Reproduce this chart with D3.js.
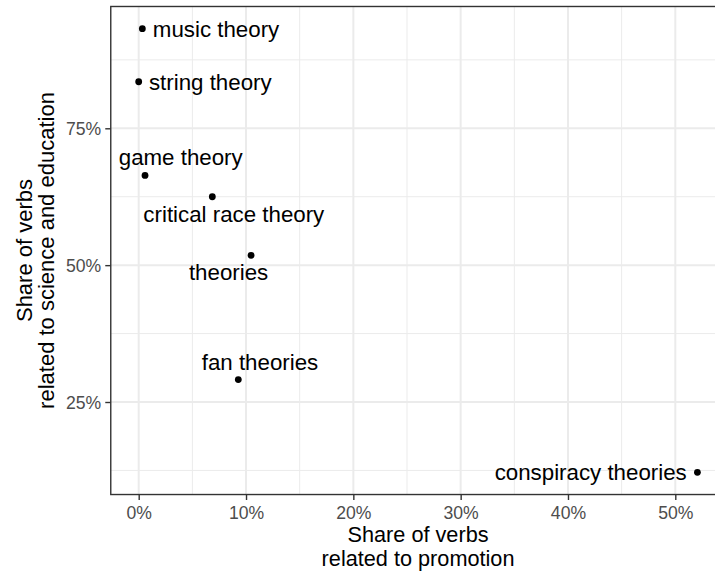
<!DOCTYPE html>
<html>
<head>
<meta charset="utf-8">
<script src="https://cdn.jsdelivr.net/npm/d3@7"></script>
<style>
  html, body { margin: 0; padding: 0; background: #fff; }
  svg { display: block; font-family: "Liberation Sans", Arial, Helvetica, sans-serif; }
</style>
</head>
<body>
<svg id="chart" width="715" height="576"></svg>
<script>
// ---- data ----
const terms = ["music theory", "string theory", "game theory", "critical race theory", "theories", "fan theories", "conspiracy theories"];
const promotionShare = [0.34, 0.0, 0.59, 6.86, 10.47, 9.28, 52.06];   // x, %
const scienceShare   = [93.2, 83.5, 66.4, 62.5, 51.8, 29.1, 12.15];  // y, %
const xTicks = [0, 10, 20, 30, 40, 50];
const yTicks = [25, 50, 75];
const yMinor = [12.5, 37.5, 62.5, 87.5];
const xMinor = [5, 15, 25, 35, 45];
const xTitle = ["Share of verbs", "related to promotion"];
const yTitle = ["Share of verbs", "related to science and education"];

// ---- layout (label placement from repel, in px relative to point) ----
const labelLayout = {
  "music theory":         [73.7, 8.3],
  "string theory":        [71.6, 8.3],
  "game theory":          [35.7, -10],
  "critical race theory": [21.5, 25],
  "theories":             [-22.5, 24.7],
  "fan theories":         [21.7, -9.3],
  "conspiracy theories":  [-106.7, 7.5]
};

const svg = d3.select("#chart");

// scales pinned by tick positions
const x = d3.scaleLinear().domain([0, 50]).range([138.7, 675.3]);
const y = d3.scaleLinear().domain([25, 75]).range([402, 128.3]);

// expanded domains (ggplot 5% expansion)
const xExt = d3.extent(promotionShare), yExt = d3.extent(scienceShare);
const xPad = (xExt[1] - xExt[0]) * 0.05, yPad = (yExt[1] - yExt[0]) * 0.05;
const pL = x(xExt[0] - xPad), pR = x(xExt[1] + xPad);
const pT = y(yExt[1] + yPad), pB = y(yExt[0] - yPad);

const g = svg.append("g");
g.append("rect").attr("x", pL).attr("y", pT).attr("width", pR - pL).attr("height", pB - pT).attr("fill", "#fff");

// minor grid
g.selectAll(".xminor").data(xMinor).enter().append("line")
  .attr("x1", d => x(d)).attr("x2", d => x(d)).attr("y1", pT).attr("y2", pB)
  .attr("stroke", "#EBEBEB").attr("stroke-width", 1);
g.selectAll(".yminor").data(yMinor).enter().append("line")
  .attr("y1", d => y(d)).attr("y2", d => y(d)).attr("x1", pL).attr("x2", pR)
  .attr("stroke", "#EBEBEB").attr("stroke-width", 1);
// major grid
g.selectAll(".xmajor").data(xTicks).enter().append("line")
  .attr("x1", d => x(d)).attr("x2", d => x(d)).attr("y1", pT).attr("y2", pB)
  .attr("stroke", "#EBEBEB").attr("stroke-width", 2);
g.selectAll(".ymajor").data(yTicks).enter().append("line")
  .attr("y1", d => y(d)).attr("y2", d => y(d)).attr("x1", pL).attr("x2", pR)
  .attr("stroke", "#EBEBEB").attr("stroke-width", 2);

// panel border
g.append("rect").attr("x", pL).attr("y", pT).attr("width", pR - pL).attr("height", pB - pT)
  .attr("fill", "none").attr("stroke", "#333333").attr("stroke-width", 1.4);

// axes
const xAxis = d3.axisBottom(x).tickValues(xTicks).tickFormat(d => d + "%").tickSize(5.5).tickPadding(4);
const yAxis = d3.axisLeft(y).tickValues(yTicks).tickFormat(d => d + "%").tickSize(5.5).tickPadding(4);

const gx = svg.append("g").attr("transform", `translate(0,${pB})`).call(xAxis);
const gy = svg.append("g").attr("transform", `translate(${pL},0)`).call(yAxis);
[gx, gy].forEach(a => {
  a.select(".domain").remove();
  a.selectAll(".tick line").attr("stroke", "#333333").attr("stroke-width", 1.4);
  a.selectAll(".tick text").attr("fill", "#4D4D4D").attr("font-size", "17.6px")
    .attr("font-family", "'Liberation Sans', Arial, sans-serif");
});
gx.selectAll(".tick text").attr("dy", null).attr("y", 24.2);
gy.selectAll(".tick text").attr("dy", "0.36em");

// points
const pts = terms.map((t, i) => ({ t, x: promotionShare[i], y: scienceShare[i] }));
svg.append("g").selectAll("circle").data(pts).enter().append("circle")
  .attr("cx", d => x(d.x)).attr("cy", d => y(d.y)).attr("r", 3.4).attr("fill", "#000");

// labels
svg.append("g").selectAll("text").data(pts).enter().append("text")
  .attr("x", d => x(d.x) + labelLayout[d.t][0])
  .attr("y", d => y(d.y) + labelLayout[d.t][1])
  .attr("text-anchor", "middle").attr("font-size", "22.3px").attr("fill", "#000")
  .text(d => d.t);

// axis titles
const cy = (pT + pB) / 2;
const xt = svg.append("text").attr("x", (pL + pR) / 2).attr("y", 541.6)
  .attr("text-anchor", "middle").attr("font-size", "21.7px").attr("fill", "#000");
xt.selectAll("tspan").data(xTitle).enter().append("tspan")
  .attr("x", (pL + pR) / 2).attr("dy", (d, i) => i === 0 ? 0 : 24.2).text(d => d);

const yt = svg.append("text").attr("transform", `translate(31.7,${cy}) rotate(-90)`)
  .attr("text-anchor", "middle").attr("font-size", "22px").attr("fill", "#000");
yt.selectAll("tspan").data(yTitle).enter().append("tspan")
  .attr("x", 0).attr("dy", (d, i) => i === 0 ? 0 : 22.5).text(d => d);
</script>
</body>
</html>
